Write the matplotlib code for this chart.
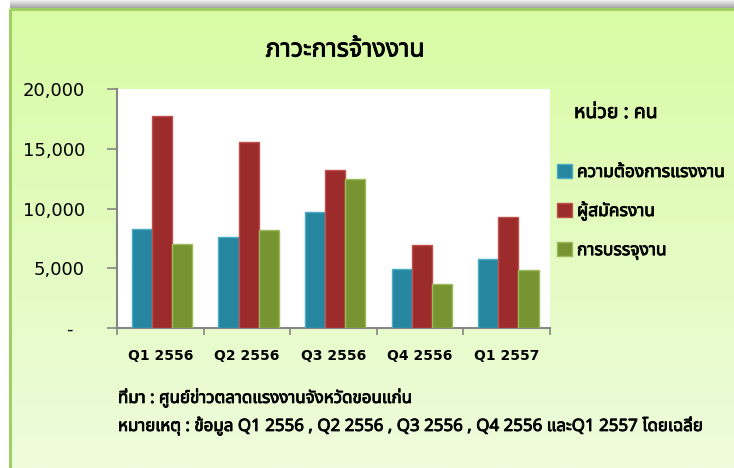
import numpy as np
import matplotlib
matplotlib.use("Agg")
import matplotlib.pyplot as plt
from matplotlib import font_manager as fm
from matplotlib.ft2font import FT2Font
from matplotlib.patches import Rectangle
from matplotlib.ticker import FuncFormatter, FixedLocator
from matplotlib.colors import to_rgb
import matplotlib.patheffects as pe

# ---------------- data ----------------
categories = ['Q1 2556', 'Q2 2556', 'Q3 2556', 'Q4 2556', 'Q1 2557']
demand = [8300, 7600, 9700, 4950, 5800]          # ความต้องการแรงงาน
applicants = [17800, 15600, 13200, 6900, 9300]   # ผู้สมัครงาน
placements = [7000, 8200, 12500, 3700, 4800]     # การบรรจุงาน
series_names = ['ความต้องการแรงงาน', 'ผู้สมัครงาน', 'การบรรจุงาน']
yticks = [0, 5000, 10000, 15000, 20000]
title = 'ภาวะการจ้างงาน'
unit_text = 'หน่วย : คน'
source_text = 'ที่มา : ศูนย์ข่าวตลาดแรงงานจังหวัดขอนแก่น'
note_text = 'หมายเหตุ : ข้อมูล Q1 2556 , Q2 2556 , Q3 2556 , Q4 2556 และQ1 2557 โดยเฉลี่ย'

face_colors = ['#27869f', '#9b2c2b', '#779433']
edge_colors = ['#4bacc6', '#c0504d', '#9bbb59']


# ---------------- fonts ----------------
def pick_thai_family():
    test = [0x0E20, 0x0E32, 0x0E07, 0x0E19]
    found = []
    for fe in fm.fontManager.ttflist:
        try:
            cmap = FT2Font(fe.fname).get_charmap()
        except Exception:
            continue
        if all(c in cmap for c in test):
            found.append(fe.name)
    if not found:
        return None
    for pref in ['Tahoma', 'Leelawadee', 'Noto Sans Thai', 'Noto Sans Thai UI',
                 'Loma', 'Garuda', 'Sarabun', 'Umpush', 'Kinnari']:
        if pref in found:
            return pref
    return found[0]


thai = pick_thai_family()
THAI = [thai, 'DejaVu Sans'] if thai else ['DejaVu Sans']
plt.rcParams['font.family'] = ['DejaVu Sans']
BOLD = [pe.withStroke(linewidth=0.6, foreground='black')]

W, H = 734, 468
fig = plt.figure(figsize=(W / 100, H / 100), dpi=100)
fig.patch.set_facecolor('white')

# ---------------- background panel ----------------
bg = fig.add_axes([0, 0, 1, 1], zorder=0)
bg.set_xlim(0, W)
bg.set_ylim(H, 0)
bg.axis('off')

sh_top = np.array(to_rgb('#f2f2f2'))
sh_bot = np.array(to_rgb('#a6a6a6'))
t = np.linspace(0, 1, 20)[:, None, None]
shadow = sh_top * (1 - t) + sh_bot * t
bg.imshow(shadow, extent=(10, W, 8, 0), aspect='auto', interpolation='bilinear')

g_top = np.array(to_rgb('#d8fba4'))
g_bot = np.array(to_rgb('#eefcdc'))
t = np.linspace(0, 1, 200)[:, None, None]
grad = g_top * (1 - t) + g_bot * t
bg.imshow(grad, extent=(9, W, H, 8), aspect='auto', interpolation='bilinear')
bg.add_patch(Rectangle((9.5, 8.5), W, H, fill=False, ec='#9fd065', lw=2.2))

# ---------------- main axes ----------------
left, right = 117, 550
top, bottom = 89.3, 327.7
ax = fig.add_axes([left / W, 1 - bottom / H, (right - left) / W, (bottom - top) / H], zorder=1)
ax.set_facecolor('white')

x = np.arange(len(categories))
bw = 0.232
series = [demand, applicants, placements]
for i, vals in enumerate(series):
    ax.bar(x + (i - 1) * bw + 0.02, vals, width=bw, color=face_colors[i],
           edgecolor=edge_colors[i], linewidth=1.0, label=series_names[i], zorder=3)

ax.set_xlim(-0.5, len(categories) - 0.5)
ax.set_ylim(0, 20000)

for s in ['top', 'right']:
    ax.spines[s].set_visible(False)
for s in ['left', 'bottom']:
    ax.spines[s].set_color('#868686')
    ax.spines[s].set_linewidth(1.5)

ax.yaxis.set_major_locator(FixedLocator(yticks))
ax.yaxis.set_major_formatter(FuncFormatter(lambda v, p: '-  ' if v == 0 else f'{int(v):,}'))
ax.tick_params(axis='y', length=7, width=1.2, color='#868686', pad=16,
               labelsize=13, labelcolor='black')

ax.set_xticks(x)
ax.set_xticklabels(categories, fontweight='bold', fontsize=10)
ax.set_xticks(np.arange(-0.5, len(categories)), minor=True)
ax.tick_params(axis='x', which='major', length=0, pad=15, labelcolor='black')
ax.tick_params(axis='x', which='minor', length=5, width=1.2, color='#868686')

# ---------------- texts ----------------
fig.text(345 / W, 1 - 50 / H, title, ha='center', va='center',
         fontsize=18, fontweight='bold', family=THAI, path_effects=BOLD)
fig.text(574 / W, 1 - 113 / H, unit_text, ha='left', va='center',
         fontsize=14, fontweight='bold', family=THAI, path_effects=BOLD)

leg = ax.legend(loc='upper left', bbox_to_anchor=(557 / W, 1 - 163 / H),
                bbox_transform=fig.transFigure, frameon=False,
                prop=dict(family=THAI, weight='bold', size=12.5),
                handlelength=0.85, handleheight=0.85, handletextpad=0.3,
                labelspacing=1.15, borderpad=0, borderaxespad=0)
for txt in leg.get_texts():
    txt.set_path_effects(BOLD)

fig.text(118 / W, 1 - 398 / H, source_text, ha='left', va='center',
         fontsize=12.2, fontweight='bold', family=THAI, path_effects=BOLD)
fig.text(118 / W, 1 - 426 / H, note_text, ha='left', va='center',
         fontsize=12.2, fontweight='bold', family=THAI, path_effects=BOLD)

fig.savefig('out.png', dpi=100)
